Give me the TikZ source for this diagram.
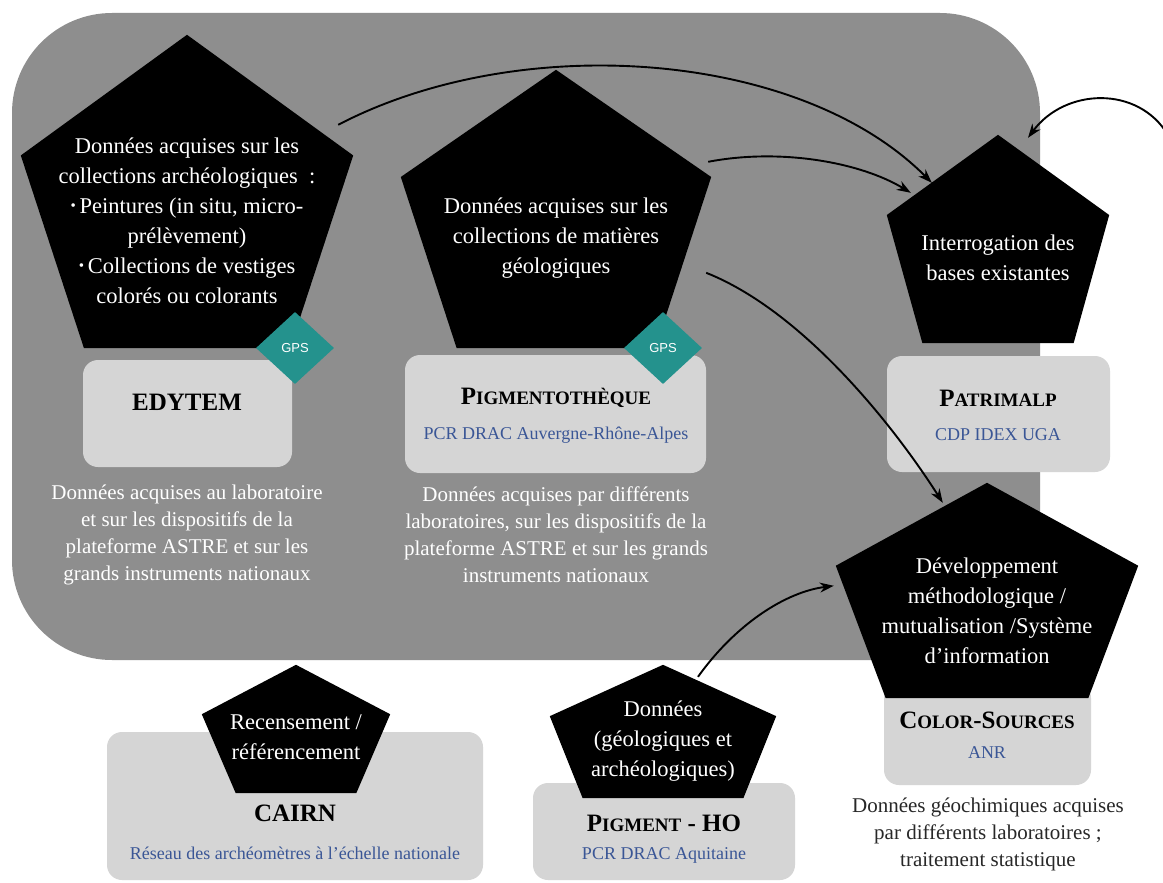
\documentclass[tikz,border=0pt]{standalone}
\usepackage{fontspec}
\setmainfont{Liberation Serif}
\setsansfont{Liberation Sans}
\usetikzlibrary{calc,shapes.geometric,arrows.meta}
\definecolor{bggray}{RGB}{142,142,142}
\definecolor{boxgray}{RGB}{213,213,213}
\definecolor{gpsteal}{RGB}{36,146,141}
\definecolor{subblue}{RGB}{58,86,150}
\definecolor{notegray}{RGB}{40,40,40}
% pentagon filled inside an invisible rectangle node: #1 node, #2 inset of the bottom side
\newcommand\pentfill[2]{\fill[black] (#1.north) -- ($(#1.north west)!0.385!(#1.south west)$) -- ($(#1.south west)!#2!(#1.south east)$) -- ($(#1.south east)!#2!(#1.south west)$) -- ($(#1.north east)!0.385!(#1.south east)$) -- cycle;}
\newcommand\petitecap[1]{{\fontsize{19}{19}\selectfont #1}}
\newcommand\puce{\raisebox{3pt}{\fontsize{15}{15}\selectfont\textbullet}\,}
\begin{document}
\begin{tikzpicture}[x=1pt,y=-1pt,
  pentzone/.style={inner sep=0pt},
  penttext/.style={text=white,align=center,inner sep=0pt,font=\fontsize{22.5}{30}\selectfont},
  labbox/.style={fill=boxgray,rounded corners=15pt,inner sep=0pt},
  boxtitle/.style={font=\bfseries\fontsize{25}{25}\selectfont},
  boxsub/.style={text=subblue,font=\fontsize{18}{18}\selectfont},
  note/.style={text=white,align=center,font=\fontsize{21}{27}\selectfont},
  gps/.style={diamond,fill=gpsteal,text=white,minimum width=78pt,minimum height=72pt,inner sep=0pt,font=\sffamily\fontsize{13}{13}\selectfont},
  link/.style={-{Stealth[length=14pt,width=10pt]},line width=1.9pt}]
\fill[white] (0,0) rectangle (1163,883);
\useasboundingbox (0,0) rectangle (1163,883);
\fill[bggray,rounded corners=100pt] (12,13) rectangle (1040,660);

% boxes of the projects
\node[labbox,minimum width=209pt,minimum height=107pt] (edytem) at (187.5,413.5) {};
\node[labbox,minimum width=301pt,minimum height=118pt] (pigmbox) at (555.5,414) {};
\node[labbox,minimum width=223pt,minimum height=116pt] (patribox) at (998.5,414) {};
\node[labbox,minimum width=207pt,minimum height=102pt] (colorbox) at (987.5,734) {};
\node[labbox,minimum width=376pt,minimum height=148pt] (cairnbox) at (295,806) {};
\node[labbox,minimum width=262pt,minimum height=97pt] (hobox) at (664,831.5) {};

% pentagons
\node[pentzone,minimum width=332pt,minimum height=313pt] (archeo) at (187,191.5) {};
\node[pentzone,minimum width=310pt,minimum height=278pt] (geolo) at (556,209) {};
\node[pentzone,minimum width=222pt,minimum height=208pt] (interro) at (998,239) {};
\node[pentzone,minimum width=302pt,minimum height=215pt] (devmeth) at (987,590.5) {};
\node[pentzone,minimum width=188pt,minimum height=128pt] (recens) at (296,729) {};
\node[pentzone,minimum width=226pt,minimum height=133pt] (donnees) at (663,731.5) {};
\pentfill{archeo}{0.19}
\pentfill{geolo}{0.18}
\pentfill{interro}{0.16}
\pentfill{devmeth}{0.165}
\pentfill{recens}{0.18}
\pentfill{donnees}{0.145}

\node[penttext] (archeotxt) at ([yshift=-29pt]archeo.center) {Données acquises sur les\\collections archéologiques~~:\\\puce Peintures (in situ, micro-\\prélèvement)\\\puce Collections de vestiges\\colorés ou colorants};
\node[penttext] (geolotxt) at ([yshift=-29pt]geolo.center) {Données acquises sur les\\collections de matières\\géologiques};
\node[penttext] (interrotxt) at ([yshift=-19pt]interro.center) {Interrogation des\\bases existantes};
\node[penttext] (devmethtxt) at ([yshift=-20pt]devmeth.center) {Développement\\méthodologique /\\mutualisation /Système\\d'information};
\node[penttext] (recenstxt) at ([yshift=-8pt]recens.center) {Recensement /\\référencement};
\node[penttext] (donneestxt) at ([yshift=-10pt]donnees.center) {Données\\(géologiques et\\archéologiques)};

\node[gps] (gps1) at (295,348) {GPS};
\node[gps] (gps2) at (663,348) {GPS};

% titles and subtitles
\node[boxtitle] (edytemT) at (187,402) {EDYTEM};
\node[boxtitle] (pigmT) at (556,398) {P\petitecap{IGMENTOTHÈQUE}};
\node[boxsub] (pigmS) at (556,435) {PCR DRAC Auvergne-Rhône-Alpes};
\node[boxtitle] (patriT) at (998,398) {P\petitecap{ATRIMALP}};
\node[boxsub] (patriS) at (998,435) {CDP IDEX UGA};
\node[boxtitle] (colorT) at (987,720) {C\petitecap{OLOR}-S\petitecap{OURCES}};
\node[boxsub] (colorS) at (987,753) {ANR};
\node[boxtitle] (cairnT) at (295,813) {CAIRN};
\node[boxsub] (cairnS) at (295,853) {Réseau des archéomètres à l'échelle nationale};
\node[boxtitle] (hoT) at (664,823) {P\petitecap{IGMENT} - HO};
\node[boxsub] (hoS) at (664,855) {PCR DRAC Aquitaine};

% notes
\node[note] (edytemN) at (187,535) {Données acquises au laboratoire\\et sur les dispositifs de la\\plateforme ASTRE et sur les\\grands instruments nationaux};
\node[note] (pigmN) at (556,535) {Données acquises par différents\\laboratoires, sur les dispositifs de la\\plateforme ASTRE et sur les grands\\instruments nationaux};
\node[note,text=notegray] (colorN) at (988,834) {Données géochimiques acquises\\par différents laboratoires ;\\traitement statistique};

% links
\coordinate (offright) at (1168,135);
\draw[link] ([xshift=-15pt,yshift=-90pt]archeo.north east) .. controls (520,30) and (800,50) .. ([xshift=45pt,yshift=-48pt]interro.north west);
\draw[link] ([xshift=-3pt,yshift=-92pt]geolo.north east) .. controls (780,148) and (860,162) .. ([xshift=24pt,yshift=-58pt]interro.north west);
\draw[link] ([xshift=-5pt,yshift=-203pt]geolo.north east) .. controls (800,310) and (890,420) .. ([xshift=107pt,yshift=-20pt]devmeth.north west);
\draw[link] (offright) .. controls (1138,85) and (1065,88) .. ([xshift=30pt,yshift=-3pt]interro.north);
\draw[link] ([xshift=35pt,yshift=-12pt]donnees.north) .. controls (735,625) and (785,592) .. ([xshift=-2pt,yshift=-103pt]devmeth.north west);
\end{tikzpicture}
\end{document}
